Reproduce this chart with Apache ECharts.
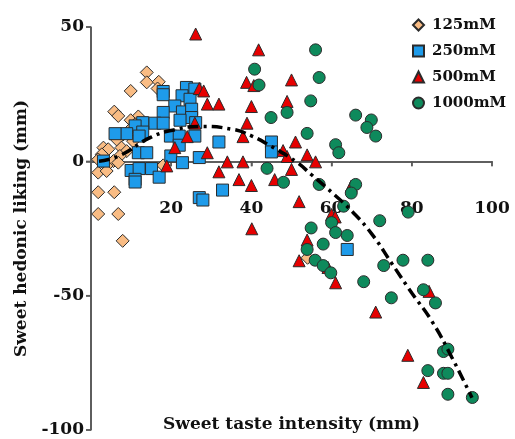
<!DOCTYPE html>
<html>
<head>
<meta charset="utf-8">
<script src="https://cdn.jsdelivr.net/npm/echarts@6/dist/echarts.min.js"></script>
<style>
  html, body { margin: 0; padding: 0; background: #fff; }
  #chart { width: 515px; height: 439px; }
</style>
</head>
<body>
<div id="chart"></div>
<script>
// [intensity, liking] per participant
const conc125 = [
  [13.9, 33.1], [13.9, 29.4], [16.9, 29.6], [16.6, 27.1], [9.9, 26.2], [5.8, 18.5],
  [6.8, 16.9], [11.8, 16.7], [9.9, 15.3], [11.0, 13.8], [12.5, 12.5], [9.5, 11.5],
  [8.0, 10.0], [6.5, 8.0], [10.5, 7.5], [3.1, 5.1], [4.3, 4.5], [7.6, 5.1],
  [8.9, 3.8], [2.7, 2.6], [7.2, 2.0], [1.8, 0.7], [5.6, 0.1], [3.9, -1.7],
  [6.8, -0.5], [1.8, -4.2], [3.9, -3.6], [18.0, -1.5], [1.8, -11.5], [5.8, -11.5],
  [1.8, -19.6], [6.8, -19.6], [7.9, -29.6], [54.0, -35.9]
];
const conc250 = [
  [23.8, 27.5], [25.9, 26.9], [18.0, 26.0], [18.0, 24.8], [22.7, 24.4], [24.7, 23.1],
  [20.9, 20.6], [22.8, 18.4], [25.1, 19.4], [18.0, 18.2], [25.1, 16.3], [22.2, 15.3],
  [26.1, 14.4], [15.9, 14.2], [18.0, 14.2], [12.9, 14.4], [11.0, 13.2], [8.9, 10.3],
  [6.0, 10.3], [12.9, 10.9], [12.0, 9.4], [19.8, 9.4], [22.0, 9.4], [25.9, 9.4],
  [22.0, 6.0], [31.9, 7.2], [45.0, 7.2], [45.0, 3.5], [11.8, 3.2], [13.9, 3.2],
  [19.9, 2.0], [27.0, 1.4], [3.1, 0.1], [22.8, -0.5], [10.0, -3.4], [12.0, -2.7],
  [15.1, -2.7], [17.0, -5.9], [11.0, -6.7], [11.0, -7.7], [32.8, -10.7], [27.0, -13.5],
  [27.9, -14.4], [63.9, -32.8]
];
const conc500 = [
  [26.1, 47.4], [41.8, 41.5], [50.0, 30.3], [38.8, 29.4], [40.6, 28.2], [27.0, 27.1],
  [28.1, 26.2], [29.0, 21.3], [31.9, 21.3], [40.0, 20.4], [48.9, 22.3], [25.9, 14.2],
  [38.9, 14.2], [24.0, 9.2], [37.9, 9.2], [20.9, 5.1], [29.0, 3.2], [51.0, 7.2],
  [47.9, 4.0], [53.9, 2.4], [48.9, 1.8], [56.0, -0.2], [34.0, -0.2], [37.9, -0.2],
  [18.9, -1.7], [31.9, -3.9], [50.0, -3.0], [36.9, -6.8], [45.8, -6.8], [40.0, -9.0],
  [64.9, -9.2], [51.9, -15.0], [60.0, -19.8], [60.9, -20.7], [40.1, -25.1], [53.9, -29.3],
  [51.9, -37.0], [59.1, -39.5], [61.0, -45.2], [71.0, -56.1], [84.3, -48.4], [79.0, -72.2],
  [82.9, -82.3]
];
const conc1000 = [
  [56.0, 41.5], [40.8, 34.3], [56.9, 31.2], [41.9, 28.4], [54.8, 22.5], [48.9, 18.2],
  [44.9, 16.3], [66.0, 17.2], [69.9, 15.4], [68.8, 12.6], [71.0, 9.4], [53.9, 10.4],
  [61.0, 6.2], [61.8, 3.2], [43.9, -2.6], [48.0, -7.8], [56.9, -8.6], [66.0, -8.6],
  [64.9, -11.8], [63.0, -16.7], [79.1, -18.9], [72.0, -22.1], [60.0, -22.8], [54.9, -24.8],
  [61.0, -26.5], [63.9, -27.6], [57.9, -30.8], [53.9, -32.8], [55.9, -36.8], [57.9, -38.8],
  [59.8, -41.5], [73.0, -38.8], [77.8, -36.8], [84.0, -36.8], [68.0, -44.8], [74.9, -50.8],
  [82.9, -47.8], [85.9, -52.7], [87.9, -70.8], [89.0, -69.9], [84.0, -77.9], [87.9, -78.9],
  [89.0, -78.9], [89.0, -86.7], [95.1, -87.9]
];
// fitted curve, points
const fitCurve = [
  [2, 0], [7, 2], [15, 9], [21, 11.8], [27, 13], [35, 12], [40, 9.5], [45, 5.5],
  [51, 0], [55, -5], [60, -11.5], [65, -18.5], [70, -27], [75, -38], [80, -49],
  [85, -59.5], [90, -73], [95, -88]
];
const seriesNames = ["125mM", "250mM", "500mM", "1000mM"];
const xTicks = [20, 40, 60, 80, 100];
const yTicks = [50, 0, -50, -100];

const font = "DejaVu Serif";
const axisColor = "#555";
const boldText = { fontFamily: font, fontWeight: "bold", color: "#111" };

let chart = echarts.init(document.getElementById("chart"));

function scatter(name, data, symbol, size, color) {
  return {
    name: name,
    type: "scatter",
    data: data,
    symbol: symbol,
    symbolSize: size,
    itemStyle: { color: color, borderColor: "#2b2b2b", borderWidth: 1, opacity: 1 }
  };
}

// axis lines and tick marks drawn as data-placed marks (the axis line did not render here)
function tickMarks(data, size, offset) {
  return {
    name: "ticks",
    type: "scatter",
    data: data,
    symbol: "rect",
    symbolSize: size,
    symbolOffset: offset,
    silent: true,
    z: 1,
    itemStyle: { color: axisColor }
  };
}

chart.setOption({
  animation: false,
  textStyle: { fontFamily: font },
  grid: { left: 91, right: 23, top: 27, bottom: 9, containLabel: false },
  legend: {
    data: seriesNames,
    orient: "vertical",
    left: 407,
    top: 11,
    itemWidth: 11,
    itemHeight: 11,
    itemGap: 8,
    textStyle: Object.assign({ fontSize: 15, lineHeight: 18, padding: [0, 0, 0, 3] }, boldText)
  },
  xAxis: {
    type: "value",
    min: 0,
    max: 100,
    interval: 20,
    name: "Sweet taste intensity (mm)",
    nameLocation: "middle",
    nameGap: -14,
    nameTextStyle: Object.assign({ fontSize: 17 }, boldText),
    // labels are laid out from the bottom edge of the grid
    axisLine: { show: true, onZero: true, lineStyle: { color: axisColor, width: 1.5 } },
    axisTick: { show: true, length: 5, lineStyle: { color: axisColor, width: 1.5 } },
    axisLabel: Object.assign({ margin: -230, fontSize: 17, showMinLabel: false }, boldText),
    splitLine: { show: false }
  },
  yAxis: {
    type: "value",
    min: -100,
    max: 50,
    interval: 50,
    name: "Sweet hedonic liking (mm)",
    nameLocation: "middle",
    nameGap: 59,
    nameRotate: 90,
    nameTextStyle: Object.assign({ fontSize: 17 }, boldText),
    axisLine: { show: true, onZero: false, lineStyle: { color: axisColor, width: 1.5 } },
    axisTick: { show: true, length: 5, lineStyle: { color: axisColor, width: 1.5 } },
    axisLabel: Object.assign({ margin: 7, fontSize: 17 }, boldText),
    splitLine: { show: false }
  },
  series: [
    tickMarks(xTicks.map(v => [v, 0]), [1.5, 5], [0, "50%"]),
    tickMarks(yTicks.map(v => [0, v]), [5, 1.5], ["-50%", 0]),
    scatter("125mM", conc125, "diamond", 13, "#F9BC84"),
    scatter("250mM", conc250, "rect", 12, "#1E9BEA"),
    scatter("500mM", conc500, "triangle", 12, "#E60000"),
    scatter("1000mM", conc1000, "circle", 12, "#0E8A5C"),
    {
      name: "fit",
      type: "line",
      data: fitCurve,
      smooth: true,
      showSymbol: false,
      silent: true,
      lineStyle: { color: "#000", width: 3.5, type: [11, 5, 3, 5] },
      markLine: {
        silent: true,
        symbol: "none",
        label: { show: false },
        z: 1,
        lineStyle: { color: axisColor, width: 1.5, type: "solid" },
        data: [{ yAxis: 0 }, { xAxis: 0 }]
      }
    }
  ]
});
</script>
</body>
</html>
